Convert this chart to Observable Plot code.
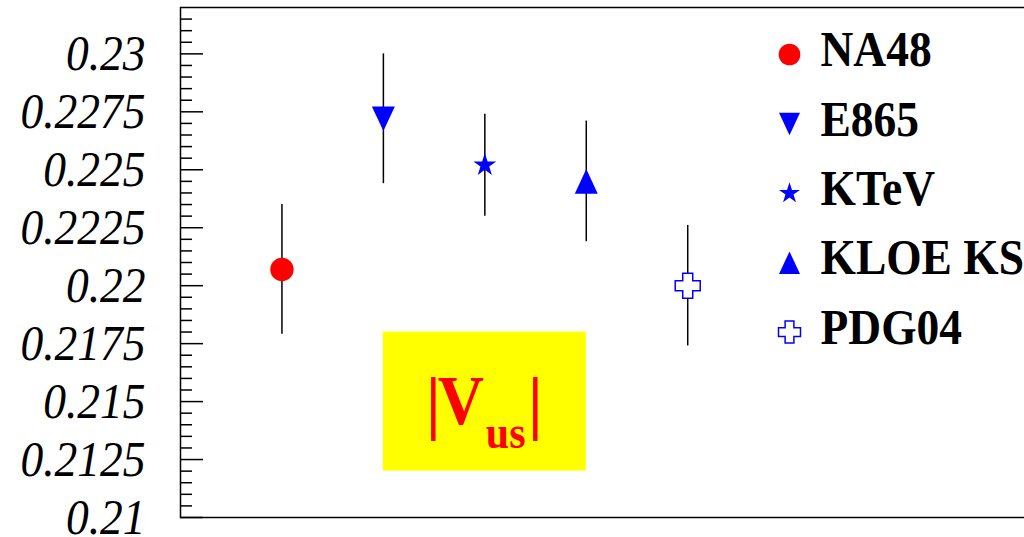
<!DOCTYPE html>
<html>
<head>
<meta charset="utf-8">
<script src="https://cdn.jsdelivr.net/npm/d3@7"></script>
<script src="https://cdn.jsdelivr.net/npm/@observablehq/plot@0.6"></script>
<style>
  html, body { margin: 0; padding: 0; background: #fff; overflow: hidden; width: 1024px; height: 537px; }
  #chart { position: relative; width: 1024px; height: 537px; overflow: hidden; }
  #chart svg { max-width: none !important; height: 537px !important; }
  #chart svg text { font-family: "Liberation Serif", serif; }
</style>
</head>
<body>
<div id="chart"></div>
<script>
// ---- data ----
const experiments = ["NA48", "E865", "KTeV", "KLOE KS", "PDG04"];
const positions   = [1, 2, 3, 4, 5];
const vusValues   = [0.2207, 0.2272, 0.2252, 0.2245, 0.2200];
const vusErrors   = [0.0028, 0.0028, 0.0022, 0.0026, 0.0026];
const yTickValues = [0.21, 0.2125, 0.215, 0.2175, 0.22, 0.2225, 0.225, 0.2275, 0.23];
const yTickLabels = ["0.21", "0.2125", "0.215", "0.2175", "0.22", "0.2225", "0.225", "0.2275", "0.23"];
const minorTickValues = d3.range(0, 44).map(i => 0.21 + i * 0.0005)
  .filter(v => !yTickValues.some(t => Math.abs(t - v) < 1e-9));
const labelBox = [{x1: 2, x2: 4, y1: 0.212, y2: 0.218}];

// ---- marker shapes (ROOT-like) ----
const triDown = {draw(ctx, size) { const a = Math.sqrt(size / Math.PI), h = 1.07 * a;
  ctx.moveTo(-a, -h); ctx.lineTo(a, -h); ctx.lineTo(0, h); ctx.closePath(); }};
const triUp = {draw(ctx, size) { const a = Math.sqrt(size / Math.PI), h = 1.07 * a;
  ctx.moveTo(-a, h); ctx.lineTo(a, h); ctx.lineTo(0, -h); ctx.closePath(); }};
const openCross = {draw(ctx, size) { const a = Math.sqrt(size / Math.PI), t = 0.4 * a;
  ctx.moveTo(-t, -a); ctx.lineTo(t, -a); ctx.lineTo(t, -t); ctx.lineTo(a, -t); ctx.lineTo(a, t);
  ctx.lineTo(t, t); ctx.lineTo(t, a); ctx.lineTo(-t, a); ctx.lineTo(-t, t); ctx.lineTo(-a, t);
  ctx.lineTo(-a, -t); ctx.lineTo(-t, -t); ctx.closePath(); }};

const styles = [
  {symbol: "circle", fill: "#ff0000", stroke: "none", r: 11.7, lr: 10.8},
  {symbol: triDown, fill: "#0000ff", stroke: "none", r: 11.5, lr: 10.5},
  {symbol: "star", fill: "#0000ff", stroke: "none", r: 7.2, lr: 6.6},
  {symbol: triUp, fill: "#0000ff", stroke: "none", r: 11.5, lr: 10.5},
  {symbol: openCross, fill: "#ffffff", stroke: "#0000ff", r: 12.5, lr: 11}
];

const rows = experiments.map((name, i) => ({name, x: positions[i], v: vusValues[i], e: vusErrors[i], i}));

const W = 1093, H = 537, ML = 180, MR = 0, MT = 7, MB = 20;
const plotW = W - ML - MR;
const serif = "'Liberation Serif', serif";
const boxCx = d => (d.x1 + d.x2) / 2, boxCy = d => (d.y1 + d.y2) / 2;
const redBold = {fontWeight: "bold", fontFamily: serif, fill: "#ff0000", lineAnchor: "middle"};

const marks = [
  Plot.rect(labelBox, {x1: "x1", x2: "x2", y1: "y1", y2: "y2", fill: "#ffff00"}),
  // |V_us| label
  Plot.text(labelBox, {x: boxCx, y: boxCy, text: () => "V", dx: -24, dy: 0, fontSize: 64, textAnchor: "middle", ...redBold}),
  Plot.text(labelBox, {x: boxCx, y: boxCy, text: () => "us", dx: 1, dy: 32, fontSize: 42, textAnchor: "start", ...redBold}),
  Plot.text(labelBox, {x: boxCx, y: boxCy, text: () => "|", dx: -51.5, dy: 2, fontSize: 64, textAnchor: "middle", ...redBold}),
  Plot.text(labelBox, {x: boxCx, y: boxCy, text: () => "|", dx: 50.5, dy: 2, fontSize: 64, textAnchor: "middle", ...redBold}),
  // error bars
  Plot.ruleX(rows, {x: "x", y1: d => d.v - d.e, y2: d => d.v + d.e, stroke: "black", strokeWidth: 1.5}),
  // ticks
  Plot.ruleY(yTickValues, {y: d => d, insetRight: plotW - 23, stroke: "black", strokeWidth: 1.5}),
  Plot.ruleY(minorTickValues, {y: d => d, insetRight: plotW - 12, stroke: "black", strokeWidth: 1.5}),
  // tick labels
  Plot.text(yTickValues, {y: d => d, text: (d, i) => yTickLabels[i], frameAnchor: "left", textAnchor: "end",
    lineAnchor: "middle", dx: -35, fontSize: 45.5, fontStyle: "italic", fontFamily: serif, fill: "black"}),
  Plot.frame({stroke: "black", strokeWidth: 1.5})
];

rows.forEach((row, i) => {
  const s = styles[i];
  marks.push(Plot.dot([row], {x: "x", y: "v", symbol: s.symbol, r: s.r, fill: s.fill,
    stroke: s.stroke, strokeWidth: 1.5}));
  // legend entry
  marks.push(Plot.dot([row], {frameAnchor: "top-left", dx: 609, dy: 47 + 69.4 * i, symbol: s.symbol,
    r: s.lr, fill: s.fill, stroke: s.stroke, strokeWidth: 1.5}));
  marks.push(Plot.text([row], {frameAnchor: "top-left", dx: 640, dy: 42.5 + 69.4 * i, text: "name",
    textAnchor: "start", lineAnchor: "middle", fontSize: 45.5, fontWeight: "bold", fontFamily: serif, fill: "black"}));
});

const chart = Plot.plot({
  width: W, height: H,
  marginLeft: ML, marginRight: MR, marginTop: MT, marginBottom: MB,
  x: {domain: [0, 9], axis: null},
  y: {domain: [0.21, 0.232], axis: null},
  style: {background: "white", overflow: "visible", maxWidth: "none", fontFamily: serif},
  marks
});
document.getElementById("chart").appendChild(chart);

// ROOT's Times glyphs are slightly taller than Liberation Serif: stretch each text vertically about its own centre
const stretch = 1.1;
chart.querySelectorAll("text").forEach(t => {
  const b = t.getBBox(); // in the text's own user space (before its transform)
  const cy = b.y + b.height / 2;
  const prev = t.getAttribute("transform") || "";
  t.setAttribute("transform", `${prev} translate(0,${cy}) scale(1,${stretch}) translate(0,${-cy})`);
});
</script>
</body>
</html>
